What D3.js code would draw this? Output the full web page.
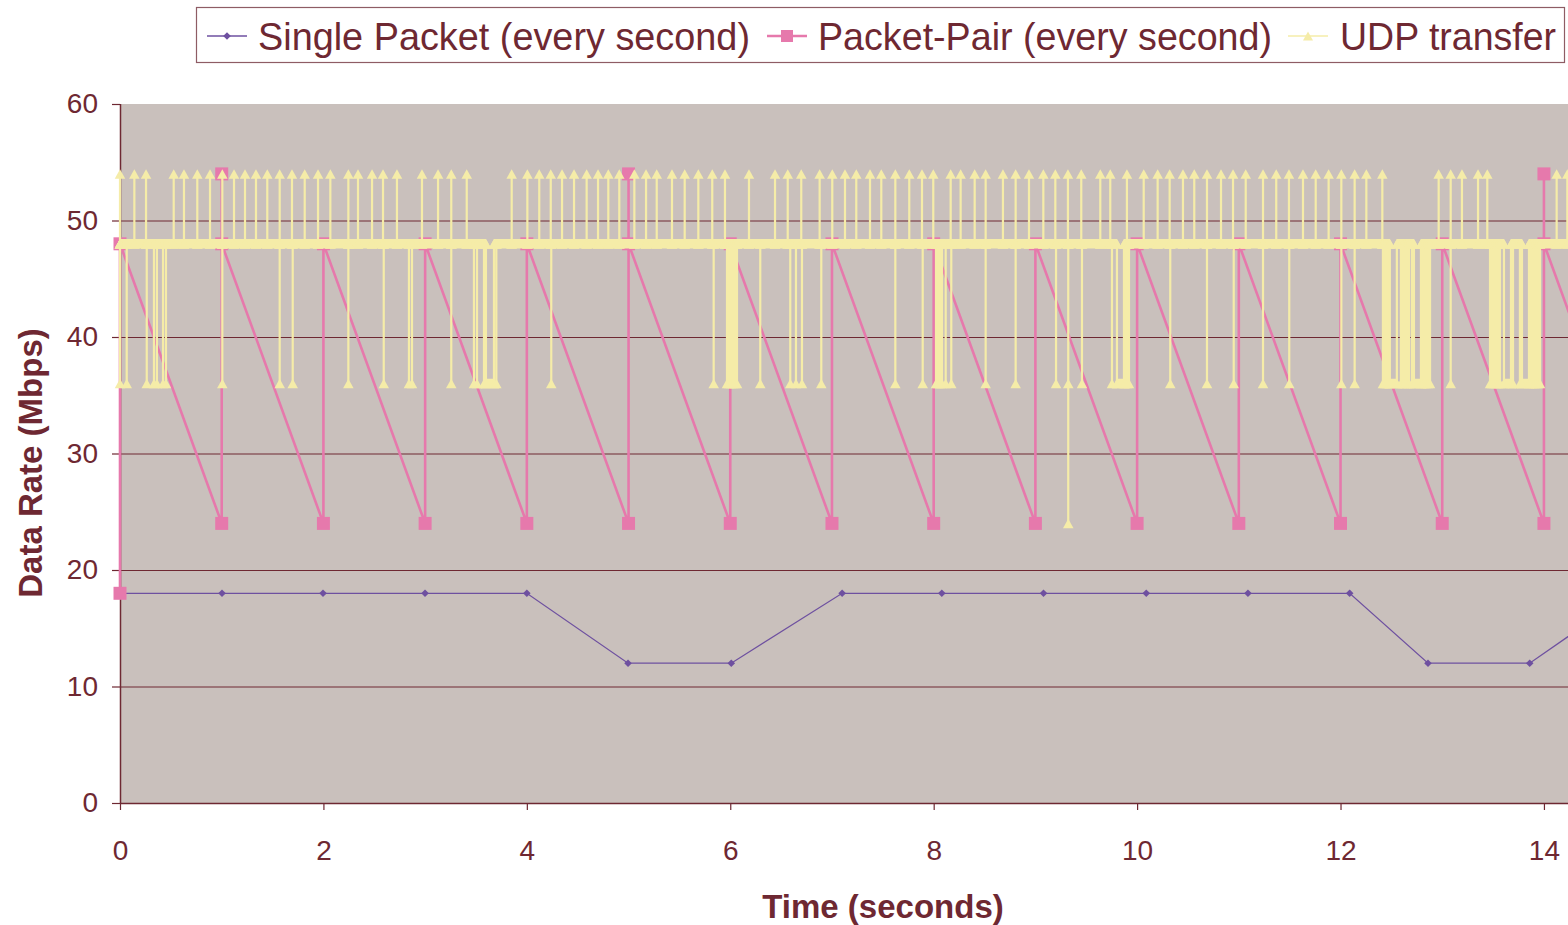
<!DOCTYPE html>
<html><head><meta charset="utf-8">
<script src="https://cdn.jsdelivr.net/npm/d3@7"></script>
<style>body{margin:0;background:#fff;overflow:hidden} svg{display:block}</style>
</head><body><svg id="c" width="1568" height="925"></svg>
<script>
// ---------- data ----------
const seriesNames = ["Single Packet (every second)", "Packet-Pair (every second)", "UDP transfer"];
const yTicks = [0, 10, 20, 30, 40, 50, 60];
const xTicks = [0, 2, 4, 6, 8, 10, 12, 14];

const singleTime = [0, 1.003, 1.996, 2.999, 4.0, 4.995, 6.01, 7.10, 8.08, 9.08, 10.09, 11.09, 12.09, 12.86, 13.86, 14.85];
const singleRate = [18, 18, 18, 18, 18, 12, 12, 18, 18, 18, 18, 18, 18, 12, 12, 18];

const pairTime = [0, 0, 1, 1, 1, 2, 2, 3, 3, 4, 4, 5, 5, 5, 6, 6, 7, 7, 8, 8, 9, 9, 10, 10, 11, 11, 12, 12, 13, 13, 14, 14, 14, 15];
const pairRate = [18, 48, 24, 54, 48, 24, 48, 24, 48, 24, 48, 24, 54, 48, 24, 48, 24, 48, 24, 48, 24, 48, 24, 48, 24, 48, 24, 48, 24, 48, 24, 54, 48, 24];

// UDP transfer: baseline 48 Mbps, with excursions
const udpBaseRate = 48;
const udpStartTime = 0, udpEndTime = 15;
const udpUpRate = 54;
const udpUpTimes = [0.000, 0.141, 0.256, 0.528, 0.629, 0.760, 0.885, 1.006, 1.121, 1.229, 1.337, 1.448, 1.570, 1.691, 1.816, 1.947,
  2.068, 2.245, 2.340, 2.478, 2.586, 2.723, 2.969, 3.127, 3.257, 3.409, 3.851, 4.005, 4.122, 4.235, 4.346, 4.464, 4.588, 4.700,
  4.801, 4.909, 5.057, 5.172, 5.277, 5.427, 5.552, 5.686, 5.823, 5.948, 6.184, 6.440, 6.565, 6.698, 6.879, 7.003, 7.128, 7.239,
  7.374, 7.485, 7.623, 7.760, 7.885, 7.996, 8.167, 8.265, 8.403, 8.511, 8.681, 8.806, 8.937, 9.078, 9.196, 9.320, 9.451, 9.638,
  9.736, 9.900, 10.065, 10.202, 10.320, 10.451, 10.562, 10.687, 10.825, 10.943, 11.068, 11.238, 11.368, 11.493, 11.631, 11.756,
  11.883, 12.008, 12.139, 12.254, 12.411, 12.965, 13.083, 13.194, 13.352, 13.443, 14.125, 14.230];
const udpDownRate = 36;
const udpDownTimes = [0.000, 0.066, 0.263, 0.334, 0.363, 0.423, 0.452, 1.006, 1.570, 1.698, 2.245, 2.593, 2.841, 2.871, 3.257,
  3.480, 3.510, 3.579, 3.700, 4.240, 5.837, 5.968, 5.987, 6.007, 6.027, 6.046, 6.066, 6.295, 6.590, 6.646, 6.705, 6.895,
  7.623, 7.892, 8.023, 8.043, 8.062, 8.082, 8.118, 8.173, 8.511, 8.806, 9.203, 9.323, 9.458, 9.753, 9.881, 9.900, 9.920,
  10.326, 10.687, 10.950, 11.238, 11.496, 12.008, 12.139, 12.417, 12.436, 12.456, 12.476, 12.594, 12.614, 12.633, 12.653,
  12.673, 12.702, 12.801, 12.821, 12.840, 12.860, 12.880, 13.083, 13.470, 13.489, 13.509, 13.529, 13.548, 13.568,
  13.696, 13.764, 13.863, 13.882, 13.902, 13.922, 13.942, 13.961];
const udpLowRuns = [[3.598, 3.677], [9.802, 9.871], [12.485, 12.554], [12.722, 12.791], [13.607, 13.676], [13.784, 13.853]];
const udpDeepTimes = [9.323];
const udpDeepRates = [24];

// ---------- build UDP table ----------
const events = [];
udpUpTimes.forEach(t => events.push({t, pts: [[t, udpBaseRate], [t, udpUpRate], [t, udpBaseRate]]}));
udpDownTimes.forEach(t => events.push({t, pts: [[t, udpBaseRate], [t, udpDownRate], [t, udpBaseRate]]}));
udpDeepTimes.forEach((t, i) => events.push({t, pts: [[t, udpBaseRate], [t, udpDeepRates[i]], [t, udpBaseRate]]}));
udpLowRuns.forEach(([a, b]) => events.push({t: a, pts: [[a, udpBaseRate], [a, udpDownRate], [b, udpDownRate], [b, udpBaseRate]]}));
events.sort((a, b) => a.t - b.t);
const udp = [[udpStartTime, udpBaseRate]];
events.forEach(e => e.pts.forEach(p => udp.push(p)));
udp.push([udpEndTime, udpBaseRate]);

// ---------- chart ----------
const C = {text: "#6E2832", grid: "#6E2832", bg: "#C9C0BC", purple: "#6E50A0", pink: "#E679AC", yellow: "#F5ECA8", legendBorder: "#8E5C64"};
const FONT = "'Liberation Sans', Arial, sans-serif";
const svg = d3.select("#c");
const x = d3.scaleLinear().domain([0, 15]).range([120, 120 + 15 * 101.71]);
const y = d3.scaleLinear().domain([0, 60]).range([803, 104]);

svg.append("rect").attr("x", x(0)).attr("y", y(60)).attr("width", x(15) - x(0)).attr("height", y(0) - y(60)).attr("fill", C.bg);

// gridlines
svg.append("g").selectAll("line").data(yTicks.filter(v => v > 0 && v < 60)).join("line")
  .attr("x1", x(0)).attr("x2", x(15)).attr("y1", d => y(d) + 0.5).attr("y2", d => y(d) + 0.5)
  .attr("stroke", C.grid).attr("stroke-width", 1);

// axes
const yAxis = svg.append("g").attr("transform", `translate(${x(0)},0)`)
  .call(d3.axisLeft(y).tickValues(yTicks).tickSize(8).tickPadding(14).tickFormat(d3.format("d")));
const xAxis = svg.append("g").attr("transform", `translate(0,${y(0)})`)
  .call(d3.axisBottom(x).tickValues(xTicks).tickSize(7).tickPadding(30).tickFormat(d3.format("d")));
[yAxis, xAxis].forEach(g => {
  g.select(".domain").attr("stroke", C.grid).attr("stroke-width", 1.5);
  g.selectAll(".tick line").attr("stroke", C.grid).attr("stroke-width", 1.2);
  g.selectAll("text").attr("fill", C.text).style("font-family", FONT).style("font-size", "28px");
});
xAxis.select(".domain").attr("d", `M${x(0)},0.5H${x(15)}`);
yAxis.select(".domain").attr("d", `M0.5,${y(60)}V${y(0)}`);

// axis titles
svg.append("text").attr("transform", "translate(42,463) rotate(-90)").attr("text-anchor", "middle")
  .attr("fill", C.text).style("font-family", FONT).style("font-size", "33px").style("font-weight", "bold")
  .text("Data Rate (Mbps)");
svg.append("text").attr("x", 883).attr("y", 918).attr("text-anchor", "middle")
  .attr("fill", C.text).style("font-family", FONT).style("font-size", "33px").style("font-weight", "bold")
  .text("Time (seconds)");

// marker shapes
const diamond = (cx, cy, r) => `M${cx},${cy - r}L${cx + r},${cy}L${cx},${cy + r}L${cx - r},${cy}Z`;
const square = (cx, cy, s) => `M${cx - s / 2},${cy - s / 2}h${s}v${s}h${-s}Z`;
const tri = (cx, cy, w, h) => `M${cx},${cy - h / 2}L${cx + w / 2},${cy + h / 2}L${cx - w / 2},${cy + h / 2}Z`;

const line = d3.line().x(d => x(d[0])).y(d => y(d[1]));
const plot = svg.append("g");

// single packet
const single = singleTime.map((t, i) => [t, singleRate[i]]);
plot.append("path").attr("d", line(single)).attr("fill", "none").attr("stroke", C.purple).attr("stroke-width", 1.3);
plot.append("g").selectAll("path").data(single).join("path").attr("d", d => diamond(x(d[0]), y(d[1]), 3.8)).attr("fill", C.purple);

// packet pair
const pair = pairTime.map((t, i) => [t, pairRate[i]]);
plot.append("path").attr("d", line(pair)).attr("fill", "none").attr("stroke", C.pink).attr("stroke-width", 2.6);
plot.append("g").selectAll("path").data(pair).join("path").attr("d", d => square(x(d[0]), y(d[1]), 13)).attr("fill", C.pink);

// udp
plot.append("path").attr("d", line(udp)).attr("fill", "none").attr("stroke", C.yellow).attr("stroke-width", 2.2);
const TW = 10.5, TH = 9.5;
const bands = [];
for (let i = 0; i < udp.length - 1; i++) {
  if (udp[i][1] === udp[i + 1][1] && udp[i + 1][0] > udp[i][0]) bands.push([udp[i], udp[i + 1]]);
}
plot.append("g").selectAll("path").data(bands).join("path")
  .attr("d", ([a, b]) => {
    const x1 = x(a[0]), x2 = x(b[0]), yy = y(a[1]);
    return `M${x1 - TW / 2},${yy + TH / 2}L${x1},${yy - TH / 2}L${x2},${yy - TH / 2}L${x2 + TW / 2},${yy + TH / 2}Z`;
  }).attr("fill", C.yellow);
plot.append("g").selectAll("path").data(udp).join("path").attr("d", d => tri(x(d[0]), y(d[1]), TW, TH)).attr("fill", C.yellow);

// legend
const lg = svg.append("g");
lg.append("rect").attr("x", 196.5).attr("y", 7.5).attr("width", 1368).attr("height", 55).attr("fill", "#fff").attr("stroke", C.legendBorder).attr("stroke-width", 1.2);
const legendItems = [
  {name: seriesNames[0], lx: 207, tx: 258, tw: 492, color: C.purple, sw: 1.3, mark: (cx, cy) => diamond(cx, cy, 3.8)},
  {name: seriesNames[1], lx: 767, tx: 818, tw: 454, color: C.pink, sw: 2.5, mark: (cx, cy) => square(cx, cy, 12)},
  {name: seriesNames[2], lx: 1288, tx: 1340, tw: 216, color: C.yellow, sw: 1.3, mark: (cx, cy) => tri(cx, cy, 10, 9)}
];
legendItems.forEach(it => {
  lg.append("line").attr("x1", it.lx).attr("x2", it.lx + 40).attr("y1", 36).attr("y2", 36).attr("stroke", it.color).attr("stroke-width", it.sw);
  lg.append("path").attr("d", it.mark(it.lx + 20, 36)).attr("fill", it.color);
  lg.append("text").attr("x", it.tx).attr("y", 50).attr("fill", C.text)
    .style("font-family", FONT).style("font-size", "39px")
    .attr("textLength", it.tw).attr("lengthAdjust", "spacingAndGlyphs").text(it.name);
});
</script></body></html>
